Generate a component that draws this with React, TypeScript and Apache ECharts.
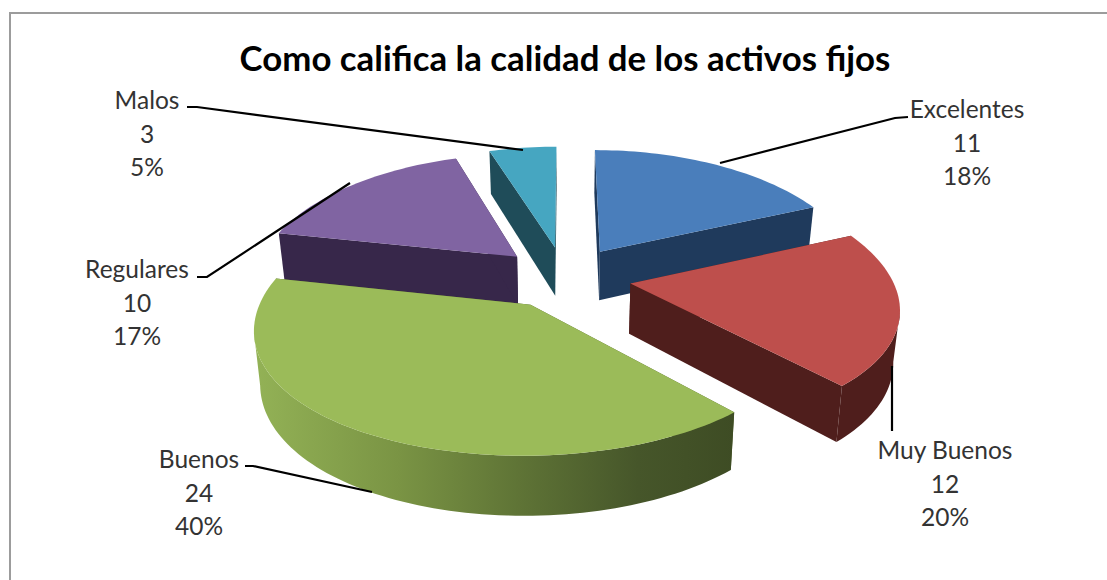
import React, { useEffect, useRef } from "react";
import * as echarts from "echarts";

const titleText = "Como califica la calidad de los activos fijos";
const categories = ["Excelentes", "Muy Buenos", "Buenos", "Regulares", "Malos"];
const counts = [11, 12, 24, 10, 3];

const topColors = ["#4a7ebb", "#be4f4c", "#9bbb59", "#8064a2", "#46a6c1"];
const sideColors = ["#1f3a5c", "#4f1e1c", "#4f5f2c", "#37274a", "#1f4c59"];
// back slices are painted first so the nearer ones overlap them
const paintOrder = [4, 0, 3, 1, 2];

// tilted-disc projection
const CX = 565;
const CY = 277;
const RX = 261;
const RY = 122;
const PERSPECTIVE_X = 0.17;
const PERSPECTIVE_Y = 0.137;
const EXPLODE = 0.254;
const DEPTH = 50;
const BASE_SHRINK = 0.02;
const STEP = Math.PI / 120;

// label anchor and leader polyline per slice
const labelLayout = [
  { x: 967, y: 92, leader: [[908, 117], [895, 118], [720, 163]] },
  { x: 945, y: 433, leader: [[892, 431], [892, 366]] },
  { x: 199, y: 442, leader: [[245, 466], [253, 466], [372, 492]] },
  { x: 137, y: 252, leader: [[197, 277], [207, 277], [350, 183]] },
  { x: 147, y: 83, leader: [[187, 107], [197, 107], [523, 150]] },
];

const total = counts.reduce((a, b) => a + b, 0);

function project(dx: number, dy: number, lift: number) {
  const sx = 1 + PERSPECTIVE_X * dy;
  const sy = 1 + PERSPECTIVE_Y * dy;
  const x = (RX * dx) / sx;
  return [CX + x * (1 - lift * BASE_SHRINK), CY - (RY * dy) / sy + (lift * DEPTH) / sy];
}

function buildSlice(index: number, value: number) {
  const before = counts.slice(0, index).reduce((a, b) => a + b, 0);
  const a0 = (before / total) * Math.PI * 2;
  const a1 = ((before + value) / total) * Math.PI * 2;
  const mid = (a0 + a1) / 2;
  const ox = EXPLODE * Math.sin(mid);
  const oy = EXPLODE * Math.cos(mid);
  const rim = (a: number, lift: number) => project(ox + Math.sin(a), oy + Math.cos(a), lift);

  const angles: number[] = [];
  for (let a = a0; a < a1; a += STEP) angles.push(a);
  angles.push(a1);

  const apexTop = project(ox, oy, 0);
  const apexBottom = project(ox, oy, 1);
  const top = [apexTop, ...angles.map((a) => rim(a, 0))];

  // only the stretch of rim that runs right-to-left faces the viewer
  const facing = angles.filter((a, i) => {
    const next = angles[i + 1];
    const prev = angles[i - 1];
    return (next !== undefined && rim(next, 0)[0] < rim(a, 0)[0]) || (prev !== undefined && rim(a, 0)[0] < rim(prev, 0)[0]);
  });
  const wall = facing.length
    ? [...facing.map((a) => rim(a, 0)), ...facing.slice().reverse().map((a) => rim(a, 1))]
    : null;

  const startFace = [apexTop, rim(a0, 0), rim(a0, 1), apexBottom];
  const endFace = [apexTop, rim(a1, 0), rim(a1, 1), apexBottom];
  return { top, wall, startFace, endFace };
}

function wallFill(index: number) {
  if (categories[index] !== "Buenos") return sideColors[index];
  return new echarts.graphic.LinearGradient(0, 0, 1, 0, [
    { offset: 0, color: "#93b256" },
    { offset: 0.3, color: "#7a9444" },
    { offset: 0.55, color: "#5f7436" },
    { offset: 0.8, color: "#46562a" },
    { offset: 1, color: "#3e4c24" },
  ]);
}

const renderSlice = (params: any, api: any) => {
  const pos = api.value(0);
  const index = paintOrder[pos];
  const value = counts[index];
  const s = buildSlice(index, value);
  const dark = sideColors[index];
  const poly = (points: number[][], fill: any, z2: number) => ({
    type: "polygon",
    z2,
    shape: { points },
    style: { fill, stroke: null },
  });
  const children: any[] = [poly(s.startFace, dark, 1), poly(s.endFace, dark, 1)];
  if (s.wall) children.push(poly(s.wall, wallFill(index), 2));
  children.push(poly(s.top, topColors[index], 3));
  return { type: "group", children };
};

const renderLabel = (params: any, api: any) => {
  const index = api.value(0);
  const layout = labelLayout[index];
  const pct = Math.round((counts[index] / total) * 100);
  return {
    type: "group",
    children: [
      {
        type: "polyline",
        shape: { points: layout.leader },
        style: { stroke: "#000", lineWidth: 2.2, fill: null },
      },
      {
        type: "text",
        x: layout.x,
        y: layout.y,
        style: {
          text: `${categories[index]}\n${counts[index]}\n${pct}%`,
          fill: "#333",
          font: "24.5px Lato",
          align: "center",
          verticalAlign: "top",
          lineHeight: 33.5,
        },
      },
    ],
  };
};

export default function App() {
  const ref = useRef<HTMLDivElement>(null);
  useEffect(() => {
    if (!ref.current) return;
    const chart = echarts.init(ref.current, undefined, { renderer: "svg" });
    chart.setOption({
      animation: false,
      backgroundColor: "#fff",
      title: {
        text: titleText,
        left: 560,
        top: 35,
        textAlign: "center",
        textStyle: { fontFamily: "Lato", fontWeight: "bold", fontSize: 34.8, color: "#000" },
      },
      graphic: [
        {
          type: "rect",
          shape: { x: 10, y: 13, width: 1200, height: 700 },
          style: { fill: "none", stroke: "#9c9c9c", lineWidth: 2 },
          silent: true,
        },
      ],
      series: [
        {
          type: "custom",
          coordinateSystem: "none",
          silent: true,
          data: paintOrder.map((_, i) => [i]),
          renderItem: renderSlice,
        },
        {
          type: "custom",
          coordinateSystem: "none",
          silent: true,
          z: 5,
          data: categories.map((_, i) => [i]),
          renderItem: renderLabel,
        },
      ],
    });
    return () => chart.dispose();
  }, []);
  return <div ref={ref} style={{ position: "absolute", left: 0, top: 0, width: 1107, height: 580 }} />;
}
